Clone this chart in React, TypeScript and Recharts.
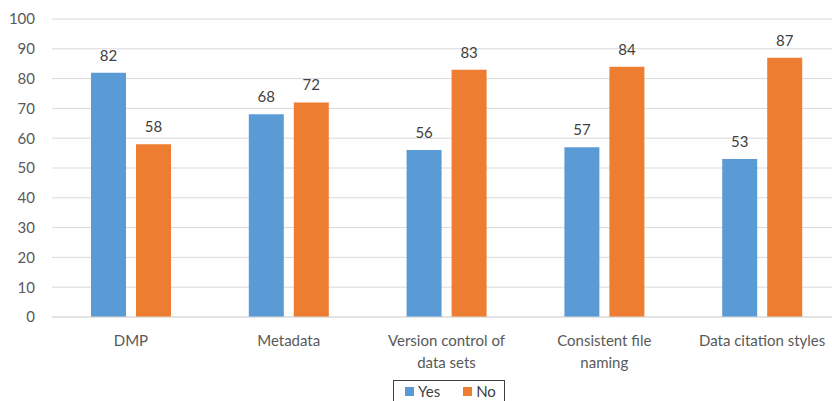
import { BarChart, Bar, XAxis, YAxis, CartesianGrid, LabelList } from "recharts";

const categories = [
  "DMP",
  "Metadata",
  "Version control of data sets",
  "Consistent file naming",
  "Data citation styles",
];
const yesValues = [82, 68, 56, 57, 53];
const noValues = [58, 72, 83, 84, 87];
const yTicks = [0, 10, 20, 30, 40, 50, 60, 70, 80, 90, 100];

const BLUE = "#5b9bd5";
const ORANGE = "#ed7d31";
const FONT = "Lato, 'Open Sans', sans-serif";

const data = categories.map((name, i) => ({ name, yes: yesValues[i], no: noValues[i] }));

/* wrap a label on word boundaries, max ~20 chars per line */
function wrap(label: string, max = 20): string[] {
  const lines: string[] = [];
  let cur = "";
  for (const w of label.split(" ")) {
    const next = cur ? cur + " " + w : w;
    if (next.length > max && cur) {
      lines.push(cur);
      cur = w;
    } else cur = next;
  }
  if (cur) lines.push(cur);
  return lines;
}

function CategoryTick({ x, y, payload }: any) {
  const lines = wrap(payload.value);
  return (
    <text x={x} y={y} textAnchor="middle" fill="#595959" fontSize={15} fontFamily={FONT}>
      {lines.map((l, i) => (
        <tspan key={i} x={x} dy={i === 0 ? 21 : 22}>
          {l}
        </tspan>
      ))}
    </text>
  );
}

export default function App() {
  return (
    <div
      style={{
        position: "absolute",
        left: 0,
        top: 0,
        width: 832,
        height: 401,
        overflow: "hidden",
        background: "#fff",
        fontFamily: FONT,
      }}
    >
      <BarChart
        width={850}
        height={401}
        data={data}
        margin={{ top: 19, right: 9, bottom: 0, left: 0 }}
        barGap={10}
        barCategoryGap={39}
      >
        <CartesianGrid vertical={false} stroke="#d9d9d9" />
        <XAxis
          dataKey="name"
          tickLine={false}
          axisLine={{ stroke: "#d9d9d9" }}
          height={84}
          interval={0}
          tick={<CategoryTick />}
        />
        <YAxis
          width={52}
          domain={[0, 100]}
          ticks={yTicks}
          tickLine={false}
          axisLine={false}
          tickMargin={11}
          tick={{ fill: "#595959", fontSize: 15, fontFamily: FONT }}
        />
        <Bar dataKey="yes" fill={BLUE} isAnimationActive={false}>
          <LabelList dataKey="yes" position="top" offset={12} fill="#404040" fontSize={15} fontFamily={FONT} />
        </Bar>
        <Bar dataKey="no" fill={ORANGE} isAnimationActive={false}>
          <LabelList dataKey="no" position="top" offset={12} fill="#404040" fontSize={15} fontFamily={FONT} />
        </Bar>
      </BarChart>
      <div
        style={{
          position: "absolute",
          left: 393,
          top: 380,
          width: 112,
          height: 24,
          border: "1px solid #404040",
          boxSizing: "border-box",
          display: "flex",
          alignItems: "flex-start",
          paddingTop: 1,
          fontSize: 15,
          color: "#404040",
        }}
      >
        <span style={{ display: "inline-block", width: 9, height: 9, background: BLUE, marginLeft: 11, marginTop: 5 }} />
        <span style={{ marginLeft: 4, lineHeight: "18px" }}>Yes</span>
        <span style={{ display: "inline-block", width: 9, height: 9, background: ORANGE, marginLeft: 23, marginTop: 5 }} />
        <span style={{ marginLeft: 4, lineHeight: "18px" }}>No</span>
      </div>
    </div>
  );
}
